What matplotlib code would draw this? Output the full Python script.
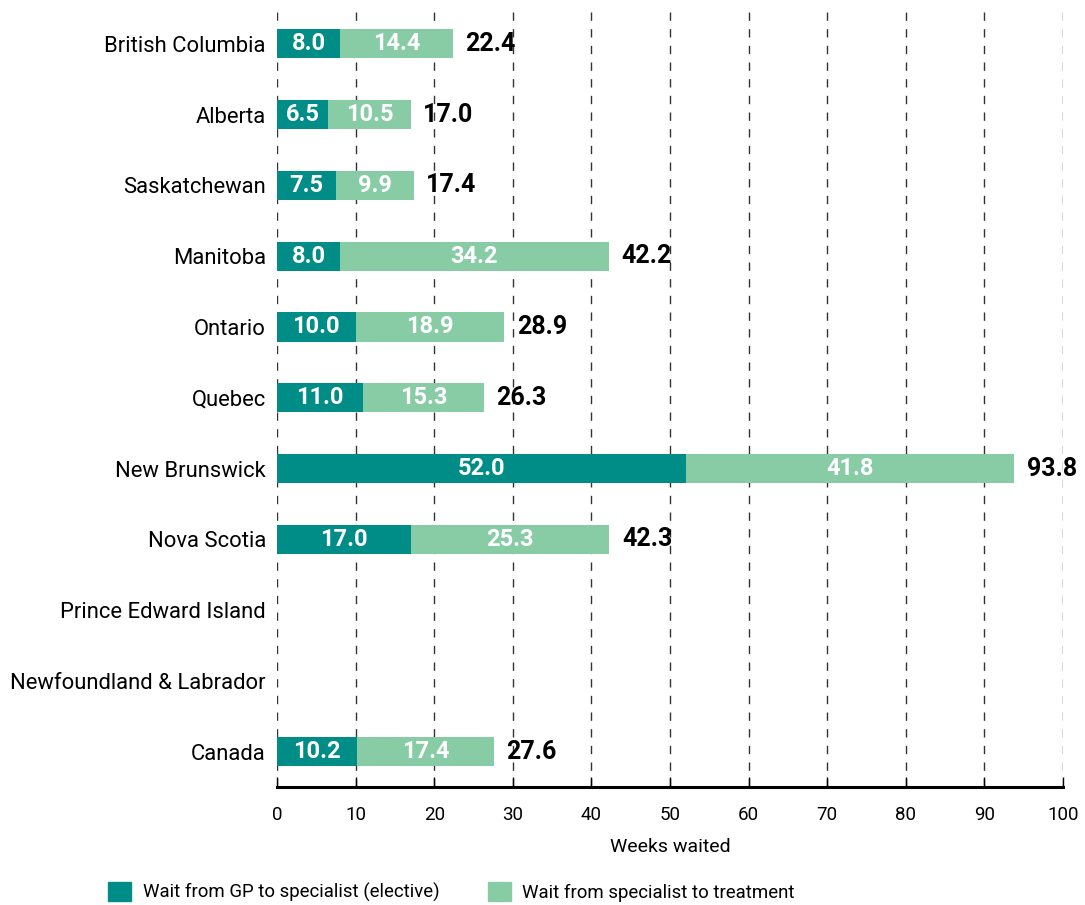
import numpy as np
import matplotlib
matplotlib.use('Agg')
import matplotlib.pyplot as plt
from matplotlib.patches import Patch

# Wait times by province (weeks)
provinces = ['British Columbia', 'Alberta', 'Saskatchewan', 'Manitoba', 'Ontario', 'Quebec',
             'New Brunswick', 'Nova Scotia', 'Prince Edward Island', 'Newfoundland & Labrador', 'Canada']
gp_to_specialist = [8.0, 6.5, 7.5, 8.0, 10.0, 11.0, 52.0, 17.0, np.nan, np.nan, 10.2]
specialist_to_treatment = [14.4, 10.5, 9.9, 34.2, 18.9, 15.3, 41.8, 25.3, np.nan, np.nan, 17.4]
totals = [22.4, 17.0, 17.4, 42.2, 28.9, 26.3, 93.8, 42.3, np.nan, np.nan, 27.6]
x_ticks = [0, 10, 20, 30, 40, 50, 60, 70, 80, 90, 100]

dark = '#008C87'
light = '#88CCA6'

plt.rcParams['font.family'] = ['Roboto', 'DejaVu Sans']

fig, ax = plt.subplots(figsize=(10.85, 9.05), dpi=100)
fig.subplots_adjust(left=0.2553, right=0.9797, top=0.989, bottom=0.1304)

y = np.arange(len(provinces))
gp = np.nan_to_num(np.array(gp_to_specialist))
sp = np.nan_to_num(np.array(specialist_to_treatment))

c1 = ax.barh(y, gp, height=0.41, color=dark, zorder=3)
c2 = ax.barh(y, sp, left=gp, height=0.41, color=light, zorder=3)

fmt = lambda v: '' if np.isnan(v) else f'{v:.1f}'
ax.bar_label(c1, labels=[fmt(v) for v in gp_to_specialist], label_type='center',
             color='white', fontsize=17, fontweight='bold')
ax.bar_label(c2, labels=[fmt(v) for v in specialist_to_treatment], label_type='center',
             color='white', fontsize=17, fontweight='bold')
ax.bar_label(c2, labels=[fmt(v) for v in totals], padding=9,
             color='black', fontsize=18, fontweight='bold', clip_on=False)

ax.set_xlim(0, 100)
ax.set_ylim(10.5, -0.48)
ax.set_yticks(y)
ax.set_yticklabels(provinces, fontsize=15.8)
ax.tick_params(axis='y', length=0, pad=8)
ax.set_xticks(x_ticks)
ax.tick_params(axis='x', direction='in', length=7, width=1, labelsize=13.5, pad=14)

ax.grid(axis='x', color='#333333', linestyle=(0, (6, 6)), linewidth=1.0, zorder=0)
ax.grid(axis='y', visible=False)
for s in ['top', 'right', 'left']:
    ax.spines[s].set_visible(False)
ax.spines['bottom'].set_linewidth(2.2)
ax.spines['bottom'].set_color('black')

ax.set_xlabel('Weeks waited', fontsize=14, labelpad=10)

handles = [Patch(color=dark, label='Wait from GP to specialist (elective)'),
           Patch(color=light, label='Wait from specialist to treatment')]
fig.legend(handles=handles, loc='center', bbox_to_anchor=(0.416, 0.0144), ncol=2,
           frameon=False, fontsize=13.4, handlelength=1.25, handleheight=1.25,
           handletextpad=0.6, columnspacing=2.6)

fig.savefig('out.png', dpi=100)
